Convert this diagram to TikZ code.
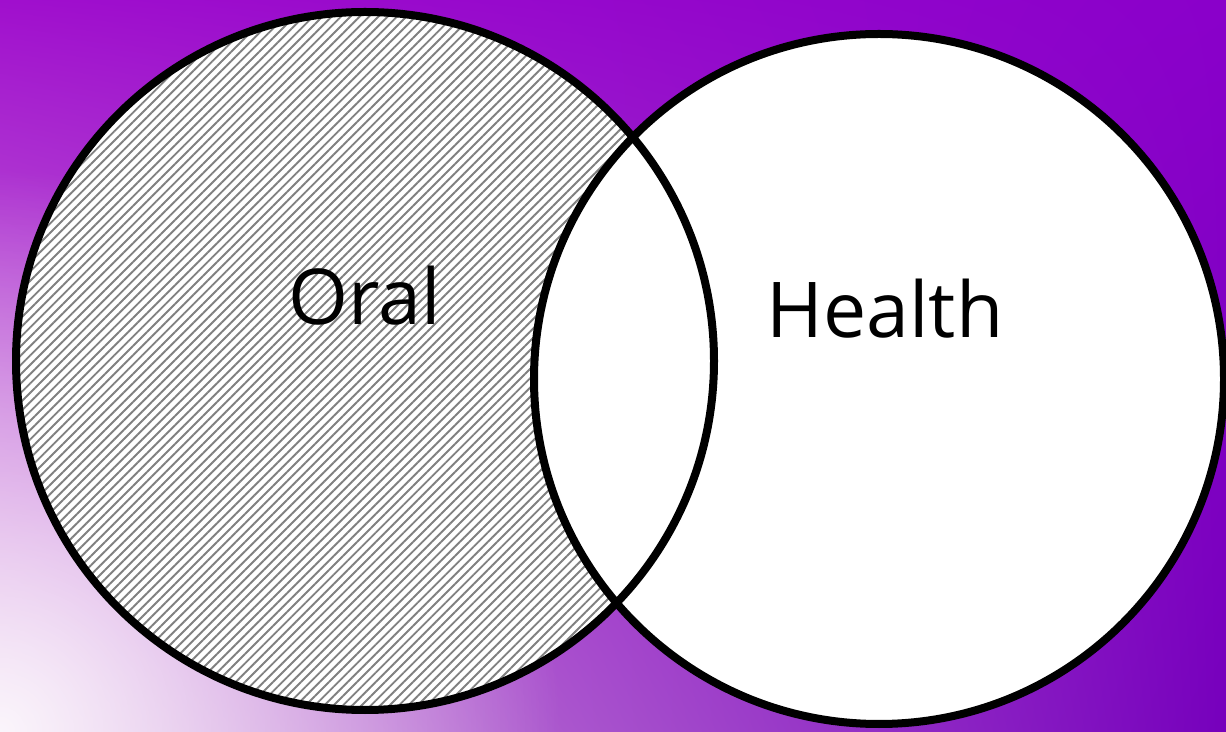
\documentclass[tikz,border=0pt]{standalone}
\usepackage{fontspec}
\setmainfont{Open Sans}
\usetikzlibrary{patterns.meta, fadings, shadings}
\definecolor{bgtopleft}{RGB}{160,15,205}
\definecolor{bgtopright}{RGB}{138,0,202}
\definecolor{bgbottomleft}{RGB}{215,160,220}
\definecolor{bgbottomright}{RGB}{118,0,188}
\definecolor{hatchgray}{RGB}{128,128,128}
\tikzfading[name=glow, inner color=transparent!10, outer color=transparent!100]
\tikzset{
  ring/.style={draw=black, line width=8pt},
  hatched/.style={
    preaction={fill=white},
    pattern={Lines[angle=45, distance=6.6pt, line width=1.9pt]},
    pattern color=hatchgray
  },
  word/.style={font=\fontsize{77}{80}\selectfont, text=black, anchor=base, inner sep=0pt}
}

\begin{document}
\begin{tikzpicture}[x=1pt, y=1pt]
  \useasboundingbox (0,0) rectangle (1226,731);
  % backdrop
  \shade[upper left=bgtopleft, upper right=bgtopright,
         lower left=bgbottomleft, lower right=bgbottomright] (0,0) rectangle (1226,731);
  \begin{scope}
    \clip (0,0) rectangle (1226,731);
    \fill[white, path fading=glow] (0,0) circle (560);
  \end{scope}
  % circles
  \path[hatched] (365,370) circle (349);
  \fill[white] (879,352) circle (345);
  \draw[ring] (879,352) circle (345);
  \draw[ring] (365,370) circle (349);
  % labels
  \node[word] (oral) at (365,406) {Oral};
  \node[word] (health) at (885,393) {Health};
\end{tikzpicture}
\end{document}
